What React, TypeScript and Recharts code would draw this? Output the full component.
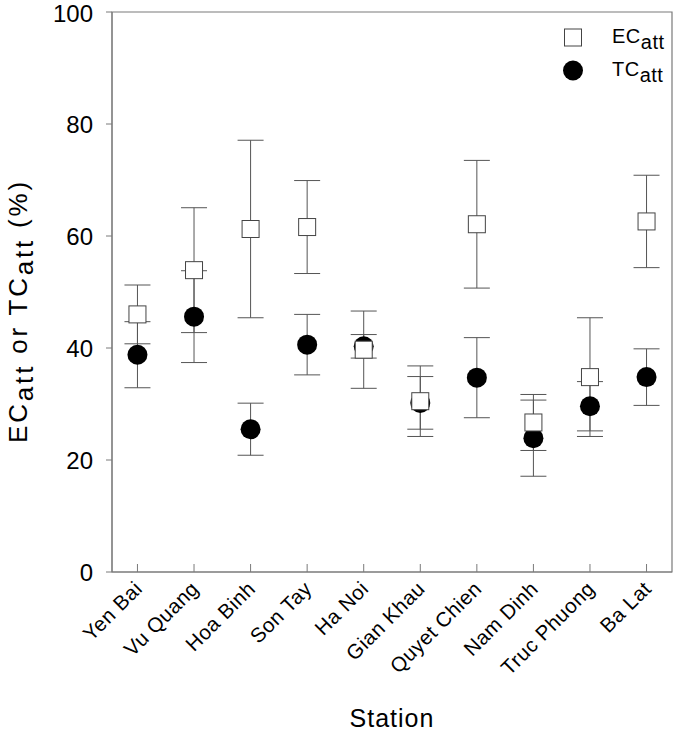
import React from 'react'
import {
  ScatterChart,
  Scatter,
  XAxis,
  YAxis,
  ErrorBar,
  ReferenceArea,
  Legend,
} from 'recharts'

const stations = [
  'Yen Bai',
  'Vu Quang',
  'Hoa Binh',
  'Son Tay',
  'Ha Noi',
  'Gian Khau',
  'Quyet Chien',
  'Nam Dinh',
  'Truc Phuong',
  'Ba Lat',
]
const ecAtt = [46.0, 53.9, 61.25, 61.6, 39.7, 30.5, 62.1, 26.7, 34.8, 62.6]
const ecAttErr = [5.25, 11.15, 15.85, 8.3, 6.9, 6.3, 11.4, 5.0, 10.6, 8.25]
const tcAtt = [38.8, 45.6, 25.5, 40.6, 40.3, 30.2, 34.7, 23.9, 29.6, 34.8]
const tcAttErr = [5.9, 8.2, 4.65, 5.4, 2.1, 4.7, 7.15, 6.8, 4.4, 5.05]
const yTicks = [0, 20, 40, 60, 80, 100]

const FONT = '"Liberation Sans", Arial, Helvetica, sans-serif'
const AXIS = '#7a7a7a'
const BAR = '#555'

const ecData = stations.map((s, i) => ({ x: i, y: ecAtt[i], err: ecAttErr[i], name: s }))
const tcData = stations.map((s, i) => ({ x: i, y: tcAtt[i], err: tcAttErr[i], name: s }))
const xTicks = stations.map((_, i) => i)

const SquareDot = (props: any) => {
  const { cx, cy } = props
  if (cx == null || cy == null) return null
  return <rect x={cx - 8.5} y={cy - 8.5} width={17} height={17} fill='#fff' stroke='#444' strokeWidth={1} />
}

const CircleDot = (props: any) => {
  const { cx, cy } = props
  if (cx == null || cy == null) return null
  return <circle cx={cx} cy={cy} r={10} fill='#000' />
}

const StationTick = (props: any) => {
  const { x, y, payload } = props
  const tx = x + 6
  return (
    <text
      x={tx}
      y={y}
      transform={`rotate(-45, ${tx}, ${y})`}
      textAnchor='end'
      fontSize={20.5}
      fontFamily={FONT}
      letterSpacing={0.5}
      fill='#000'
    >
      {stations[payload.value]}
    </text>
  )
}

const YTitle = (props: any) => {
  const { viewBox } = props
  const x = viewBox.x + 27
  const y = 311
  return (
    <text
      x={x}
      y={y}
      transform={`rotate(-90, ${x}, ${y})`}
      textAnchor='middle'
      fontSize={26}
      fontFamily={FONT}
      letterSpacing={2.8}
      fill='#000'
    >
      EC<tspan dy={6}>att</tspan>
      <tspan dy={-6}> or TC</tspan>
      <tspan dy={6}>att</tspan>
      <tspan dy={-6}> (%)</tspan>
    </text>
  )
}

const XTitle = (props: any) => {
  const { viewBox } = props
  return (
    <text
      x={viewBox.x + viewBox.width / 2}
      y={727}
      textAnchor='middle'
      fontSize={25}
      fontFamily={FONT}
      letterSpacing={1}
      fill='#000'
    >
      Station
    </text>
  )
}

const legendOrder = ['EC', 'TC']

const renderLegend = (props: any) => {
  const payload = [...(props.payload || [])].sort(
    (a: any, b: any) => legendOrder.indexOf(a.value) - legendOrder.indexOf(b.value)
  )
  return (
    <svg width={120} height={72} style={{ display: 'block' }}>
      {payload.map((entry: any, i: number) => {
        const cy = 17.5 + i * 33
        return (
          <g key={entry.value}>
            {entry.value === 'EC' ? (
              <rect x={9.5} y={cy - 8.5} width={17} height={17} fill='#fff' stroke='#444' />
            ) : (
              <circle cx={18} cy={cy} r={10} fill='#000' />
            )}
            <text x={57} y={cy + 5} fontSize={20} fontFamily={FONT} fill='#000' letterSpacing={0.5}>
              {entry.value}
              <tspan dy={6}>att</tspan>
            </text>
          </g>
        )
      })}
    </svg>
  )
}

export default function App() {
  return (
    <div style={{ position: 'absolute', left: 0, top: 0, width: 675, height: 733, background: '#fff' }}>
      <ScatterChart
        width={675}
        height={733}
        margin={{ top: 12, right: 3, bottom: 0, left: 0 }}
      >
        <ReferenceArea
          x1={-0.45}
          x2={9.45}
          y1={0}
          y2={100}
          fill='none'
          stroke={AXIS}
          strokeWidth={1.2}
          ifOverflow='visible'
        />
        <XAxis
          type='number'
          dataKey='x'
          domain={[-0.45, 9.45]}
          ticks={xTicks}
          interval={0}
          height={161}
          allowDataOverflow
          stroke={AXIS}
          tickSize={-8}
          tickMargin={26}
          tick={<StationTick />}
          label={<XTitle />}
        />
        <YAxis
          type='number'
          dataKey='y'
          domain={[0, 100]}
          ticks={yTicks}
          width={112}
          allowDataOverflow
          stroke={AXIS}
          tickSize={6}
          tickMargin={13}
          tick={{ fontSize: 24, fontFamily: FONT, fill: '#000' }}
          label={<YTitle />}
        />
        <Legend
          layout='horizontal'
          verticalAlign='middle'
          align='center'
          content={renderLegend}
          wrapperStyle={{ position: 'absolute', left: 555, top: 20, width: 120, height: 72 }}
        />
        <Scatter name='TC' data={tcData} shape={<CircleDot />} fill='#000' isAnimationActive={false}>
          <ErrorBar dataKey='err' direction='y' width={13} stroke={BAR} strokeWidth={1} />
        </Scatter>
        <Scatter name='EC' data={ecData} shape={<SquareDot />} fill='#fff' isAnimationActive={false}>
          <ErrorBar dataKey='err' direction='y' width={13} stroke={BAR} strokeWidth={1} />
        </Scatter>
      </ScatterChart>
    </div>
  )
}
